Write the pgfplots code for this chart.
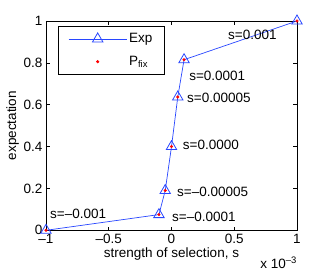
\documentclass[border=0pt]{standalone}
\usepackage{fontspec}
\setmainfont{Liberation Sans}
\usepackage{pgfplots}
\pgfplotsset{compat=1.18}
\begin{document}
\begin{tikzpicture}[font=\fontsize{13.5}{16}\selectfont]
\useasboundingbox (-46pt,-43pt) rectangle (281pt,230.3pt);
\begin{axis}[
  scale only axis,
  width=251pt, height=209.3pt,
  xmin=-1, xmax=1, ymin=0, ymax=1,
  xtick={-1,-0.5,0,0.5,1},
  xticklabels={\textendash1,\textendash0.5,0,0.5,1},
  ytick={0,0.2,0.4,0.6,0.8,1},
  yticklabels={0,0.2,0.4,0.6,0.8,1},
  tick label style={font=\fontsize{13.5}{16}\selectfont},
  label style={font=\fontsize{13.5}{16}\selectfont},
  tick align=inside,
  major tick length=3.5pt,
  tick style={black, line width=0.5pt},
  axis line style={line width=0.6pt},
  xlabel={strength of selection, s},
  ylabel={expectation},
  xlabel style={yshift=3pt},
  ylabel style={yshift=-2pt},
  clip=false,
  legend style={at={(0.048,0.975)}, anchor=north west, draw=black, line width=0.6pt,
    inner xsep=10pt, inner ysep=5pt, row sep=8pt,
    font=\fontsize{13.5}{16}\selectfont,
    legend cell align=left},
  legend image code/.code={\draw[mark repeat=2,mark phase=2,#1] plot coordinates {(0pt,0pt) (29pt,0pt) (58pt,0pt)};},
]
\addplot[color={rgb,255:red,40;green,70;blue,255}, line width=0.7pt, mark=triangle, mark size=6pt,
  mark options={line width=0.8pt}] coordinates {
  (-1,0) (-0.1,0.075) (-0.05,0.19) (0,0.40) (0.05,0.637) (0.1,0.815) (1,1.0)};
\addlegendentry{Exp}
\addplot[only marks, mark=*, mark size=1.3pt, color=red] coordinates {
  (-1,0) (-0.1,0.075) (-0.05,0.19) (0,0.40) (0.05,0.637) (0.1,0.815) (1,1.0)};
\addlegendentry{P\textsubscript{fix}}
\node[anchor=west, inner sep=0pt] at (axis cs:0.45,0.936) {s=0.001};
\node[anchor=west, inner sep=0pt] at (axis cs:0.14,0.74) {s=0.0001};
\node[anchor=west, inner sep=0pt] at (axis cs:0.123,0.632) {s=0.00005};
\node[anchor=west, inner sep=0pt] at (axis cs:0.09,0.406) {s=0.0000};
\node[anchor=west, inner sep=0pt] at (axis cs:0.044,0.186) {s=\textendash0.00005};
\node[anchor=west, inner sep=0pt] at (axis cs:0.004,0.064) {s=\textendash0.0001};
\node[anchor=west, inner sep=0pt] at (axis cs:-0.968,0.08) {s=\textendash0.001};
\node[anchor=base east, inner sep=0pt] at ([yshift=-38pt]rel axis cs:1,0) {x 10\textsuperscript{\textendash3}};
\end{axis}
\end{tikzpicture}
\end{document}
